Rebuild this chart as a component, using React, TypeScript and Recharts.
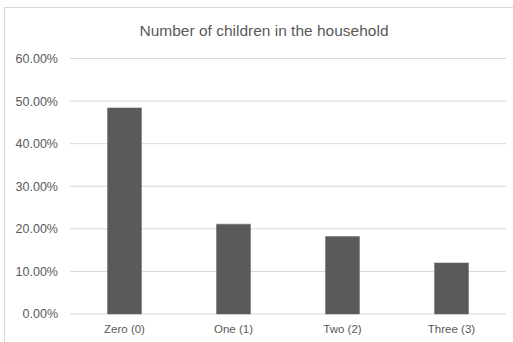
import React from "react";
import { BarChart, Bar, XAxis, YAxis, CartesianGrid } from "recharts";

const categories = ["Zero (0)", "One (1)", "Two (2)", "Three (3)"];
const shares = [48.4, 21.1, 18.2, 12.0];
const yTicks = [0, 10, 20, 30, 40, 50, 60];
const title = "Number of children in the household";

const data = categories.map((name, i) => ({ name, value: shares[i] }));

const font = "'Liberation Sans', Arial, sans-serif";
const textColor = "#595959";

export default function App() {
  return (
    <div
      style={{
        position: "absolute",
        left: 0,
        top: 0,
        width: 513,
        height: 342,
        background: "#ffffff",
        overflow: "hidden",
        fontFamily: font,
      }}
    >
      <div
        style={{
          position: "absolute",
          left: 4,
          top: 7,
          width: 560,
          height: 400,
          borderLeft: "1.5px solid #d9d9d9",
          borderTop: "1.5px solid #d9d9d9",
        }}
      />
      <div
        style={{
          position: "absolute",
          left: 0,
          top: 22,
          width: 528,
          textAlign: "center",
          fontSize: 15.5,
          color: textColor,
          whiteSpace: "pre",
        }}
      >
        {title}
      </div>
      <BarChart
        width={513}
        height={342}
        data={data}
        margin={{ top: 58.5, right: 7, bottom: 0, left: 0 }}
        barCategoryGap="34.4%"
        style={{ position: "absolute", left: 0, top: 0 }}
      >
        <CartesianGrid horizontal vertical={false} stroke="#d9d9d9" strokeWidth={1} />
        <XAxis
          dataKey="name"
          height={28}
          axisLine={false}
          tickLine={false}
          tickSize={0}
          tickMargin={11}
          tick={{ fill: textColor, fontSize: 11.5, fontFamily: font }}
        />
        <YAxis
          width={70}
          domain={[0, 60]}
          ticks={yTicks}
          interval={0}
          axisLine={false}
          tickLine={false}
          tickSize={0}
          tickMargin={12}
          tickFormatter={(v: number) => v.toFixed(2) + "%"}
          tick={{ fill: textColor, fontSize: 12.5, fontFamily: font }}
        />
        <Bar dataKey="value" fill="#5a5a5a" stroke="#6a6a6a" strokeWidth={0.5} isAnimationActive={false} />
      </BarChart>
    </div>
  );
}
